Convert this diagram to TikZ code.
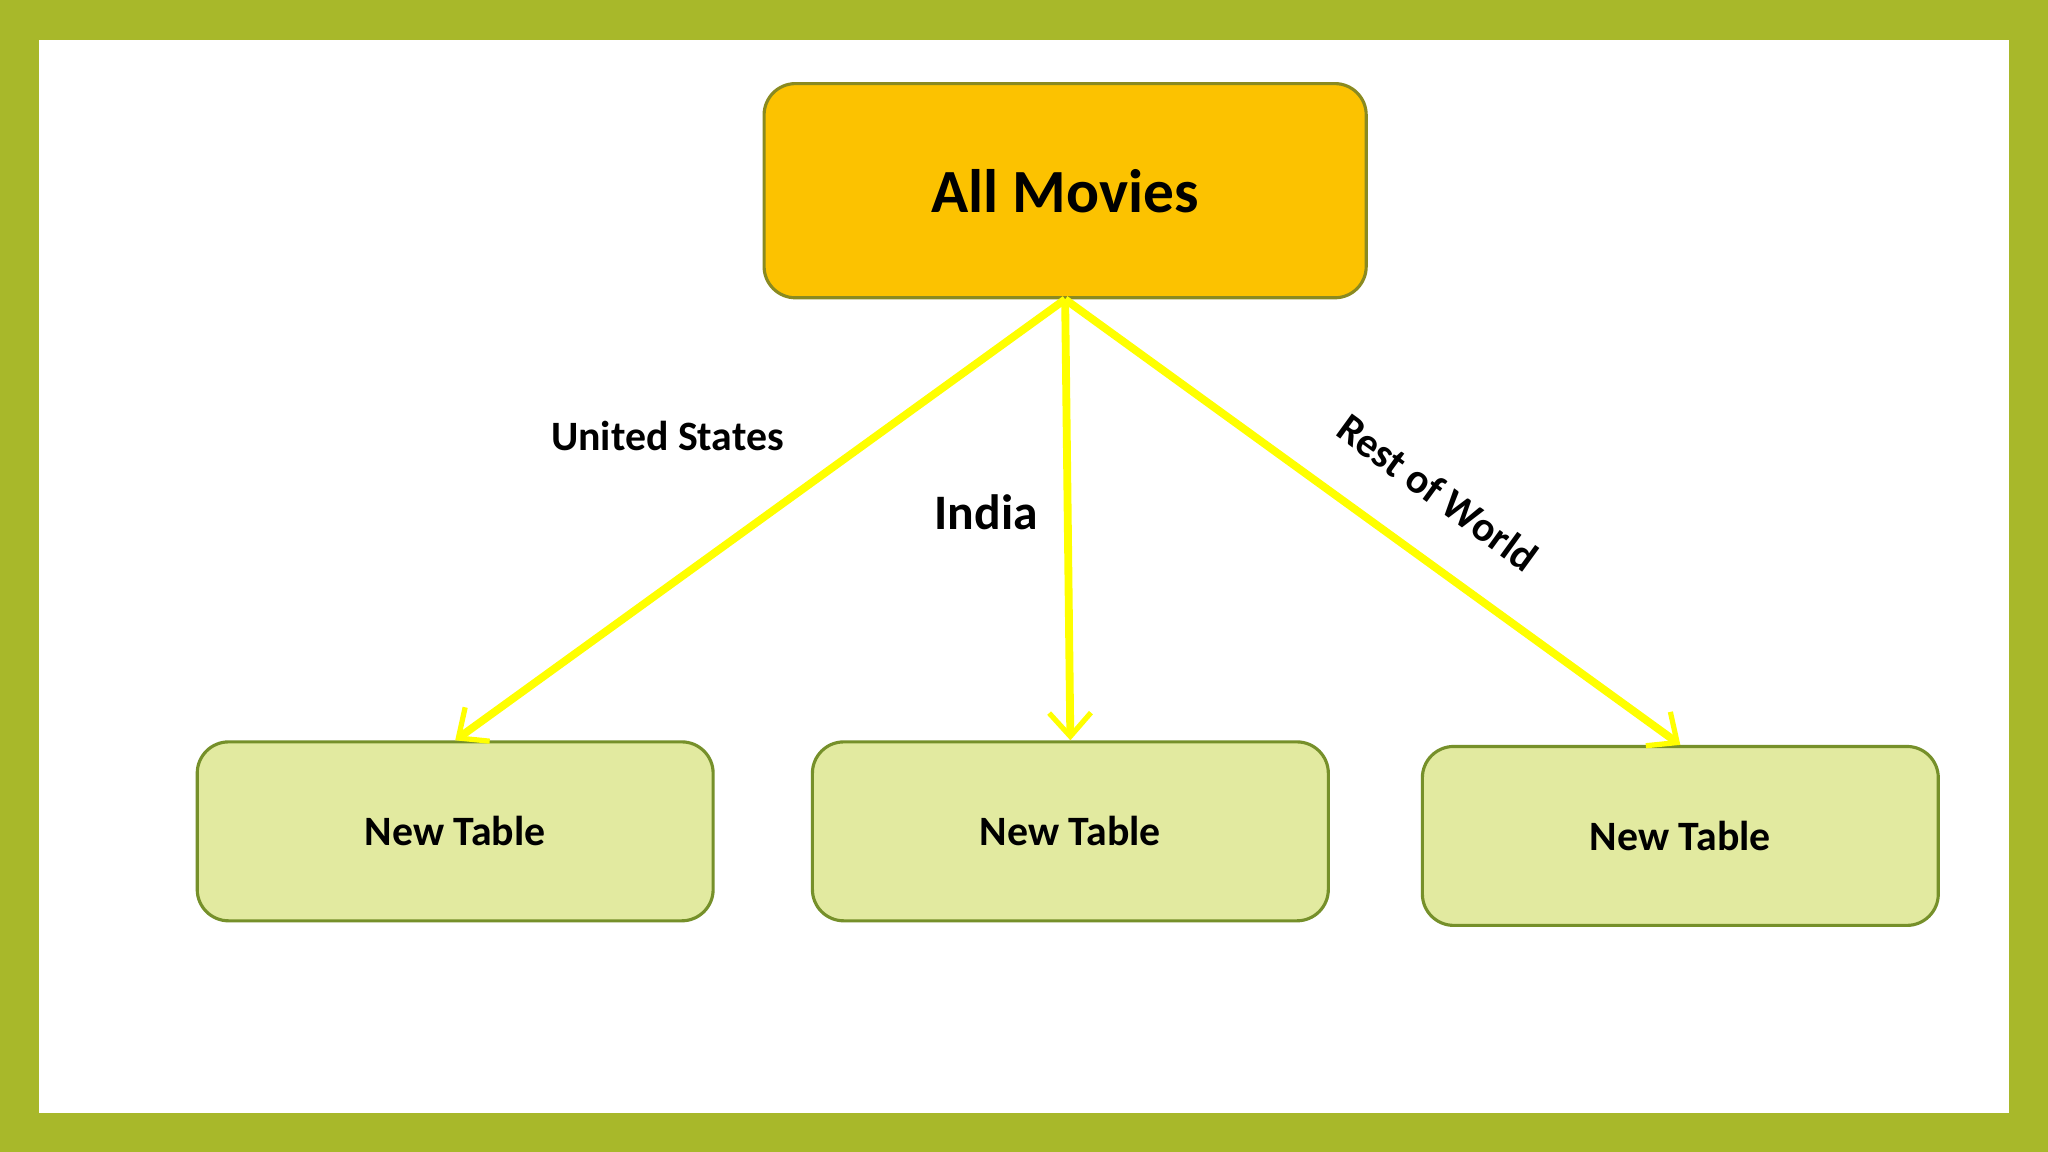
\documentclass[tikz,border=0pt]{standalone}
\usepackage{fontspec}
\setmainfont{Carlito}
\usetikzlibrary{arrows.meta}
\definecolor{frame}{HTML}{A8B82A}
\definecolor{topfill}{HTML}{FCC200}
\definecolor{topline}{HTML}{8A8A20}
\definecolor{botfill}{HTML}{E2EAA0}
\definecolor{botline}{HTML}{76902A}
\definecolor{arr}{HTML}{FFFF00}
\tikzset{
  topbox/.style={draw=topline,line width=1.2pt,fill=topfill,rounded corners=12pt,minimum width=230.5pt,minimum height=82pt,font=\bfseries\fontsize{23.5}{28}\selectfont},
  tbox/.style={draw=botline,line width=1.2pt,fill=botfill,rounded corners=12pt,minimum width=197.5pt,minimum height=68.5pt,font=\bfseries\fontsize{16}{19}\selectfont},
  yarrow/.style={draw=arr,line width=3pt,-{Straight Barb[length=9pt,width=16pt,line width=2pt]}},
  lab/.style={font=\bfseries\fontsize{16}{19}\selectfont}
}
\begin{document}
\begin{tikzpicture}[x=0.5pt,y=-0.5pt]
\fill[frame] (0,0) rectangle (1568,882);
\fill[white] (30,31) rectangle (1538,852);
\node[topbox] (all) at (815.5,146) {All Movies};
\node[tbox] (t1) at (348.5,636.5) {New Table};
\node[tbox] (t2) at (819.5,636.5) {New Table};
\node[tbox] (t3) at (1286.5,640) {New Table};
\draw[yarrow] (all.south) -- (t1.north);
\draw[yarrow] (all.south) -- (t2.north);
\draw[yarrow] (all.south) -- (t3.north);
\node[lab] (us) at (511,334) {United States};
\node[lab,font=\bfseries\fontsize{19}{23}\selectfont] (in) at (755,392) {India};
\node[lab,rotate=-36,inner sep=0pt] (rw) at (1101,377) {Rest of World};
\end{tikzpicture}
\end{document}
